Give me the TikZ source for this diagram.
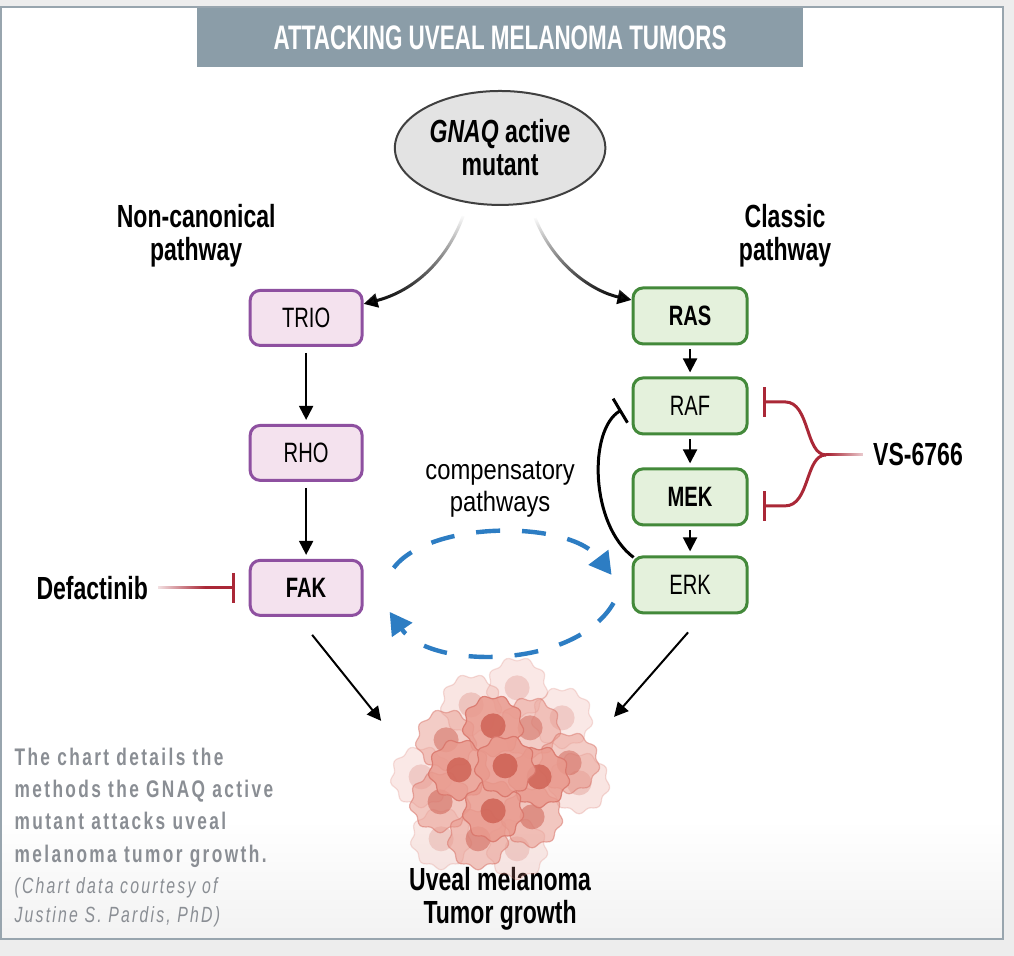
\documentclass[tikz,border=0pt]{standalone}
\usepackage{fontspec}
\setmainfont{Liberation Sans}
\newfontfamily\titlefont[FakeStretch=0.66]{Liberation Sans}
\newfontfamily\cnd[FakeStretch=0.72]{Liberation Sans}
\newfontfamily\cndwide[FakeStretch=0.85]{Liberation Sans}
\newfontfamily\capfont[FakeStretch=0.72,LetterSpace=10]{Liberation Sans}
\usetikzlibrary{arrows.meta,shapes.geometric,fadings}

\definecolor{frameblue}{HTML}{98A5AE}
\definecolor{titleband}{HTML}{8B9DA8}
\definecolor{purpline}{HTML}{8E50A0}
\definecolor{purpfill}{HTML}{F4E2EE}
\definecolor{grnline}{HTML}{43893A}
\definecolor{grnfill}{HTML}{E4F1DC}
\definecolor{inhred}{HTML}{AA2837}
\definecolor{compblue}{HTML}{2D7DC3}
\definecolor{capgray}{HTML}{8A8E94}
\definecolor{cellfill}{HTML}{E99A8E}
\definecolor{celledge}{HTML}{D9766B}
\definecolor{nucleus}{HTML}{CF6356}

\tikzfading[name=fadetop, top color=transparent!100, middle color=transparent!0, bottom color=transparent!0]
\tikzfading[name=whiteleft, left color=transparent!0, right color=transparent!100]
\tikzfading[name=whiteright, left color=transparent!100, right color=transparent!0]

\tikzstyle{noncanon}=[draw=purpline, fill=purpfill, line width=1.5pt, rounded corners=5pt,
  minimum width=56pt, minimum height=27.5pt, inner sep=0pt, font=\cnd\fontsize{14}{16}\selectfont]
\tikzstyle{classic}=[draw=grnline, fill=grnfill, line width=1.5pt, rounded corners=5pt,
  minimum width=57pt, minimum height=28pt, inner sep=0pt, font=\cnd\fontsize{14}{16}\selectfont]
\tikzstyle{act}=[-{Triangle[length=7pt,width=7pt]}, line width=1pt]
\tikzstyle{inhib}=[-{Bar[width=15pt,line width=1.5pt]}, line width=1.5pt, inhred]
\tikzstyle{comp}=[compblue, line width=2.2pt, dash pattern=on 12pt off 11pt, -{Triangle[length=11pt,width=12pt]}]
\tikzstyle{lbl}=[align=center, inner sep=2pt, font=\cnd\bfseries\fontsize{16}{16.5}\selectfont]
\tikzstyle{capline}=[anchor=base west, inner sep=0pt, text=capgray]

\begin{document}
\begin{tikzpicture}[x=0.5pt,y=-0.5pt]
    %Frame
    \fill[black!7] (0,0) rectangle (1014,956);
    \fill[white] (1,7) rectangle (1003,939);
    \shade[top color=white, bottom color=black!5] (1,820) rectangle (1003,939);
    \draw[frameblue, line width=1.2pt] (1,7) rectangle (1003,939);
    \useasboundingbox (0,0) rectangle (1014,956);
    \node[fill=titleband, minimum width=303pt, minimum height=29.5pt, inner sep=0pt, text=white,
      font=\titlefont\bfseries\fontsize{17}{17}\selectfont] (title) at (500,38) {ATTACKING UVEAL MELANOMA TUMORS};

    %Source
    \node[ellipse, draw=black!75, fill=black!11, line width=1pt, minimum width=102pt,
      minimum height=57pt, lbl] (gnaq) at (500,148) {\textit{GNAQ} active\\mutant};

    %Pathway boxes
    \foreach \pos/\name/\txt in {{(306,318)/trio/TRIO}, {(306,453)/rho/RHO}, {(306,588)/fak/\bfseries FAK}}
    \node[noncanon] (\name) at \pos {\txt};
    \foreach \pos/\name/\txt in {{(690,316)/ras/\bfseries RAS}, {(690,406)/raf/RAF},
                                 {(690,497)/mek/\bfseries MEK}, {(690,585)/erk/ERK}}
    \node[classic] (\name) at \pos {\txt};

    %Labels
    \node[lbl] (noncan) at (196,236) {Non-canonical\\pathway};
    \node[lbl] (clpath) at (785,236) {Classic\\pathway};
    \node[lbl] (defac) at (92,588) {Defactinib};
    \node[lbl] (vs) at (918,455) {VS-6766};
    \node[align=center, font=\cndwide\fontsize{14}{16}\selectfont] (comptxt) at (500,489) {compensatory\\pathways};
    \node[lbl] (tumtxt) at (500,899) {Uveal melanoma\\Tumor growth};

    %Caption
    \foreach \y/\txt [count=\i] in {766/The chart details the, 798/methods the GNAQ active,
                                   830/mutant attacks uveal, 863/melanoma tumor growth.}
    \node[capline, font=\capfont\bfseries\fontsize{12}{14}\selectfont] (cap\i) at (14,\y) {\txt};
    \node[capline, font=\capfont\itshape\fontsize{11}{13}\selectfont] (src1) at (14,894) {(Chart data courtesy of};
    \node[capline, font=\capfont\itshape\fontsize{11}{13}\selectfont] (src2) at (14,923) {Justine S. Pardis, PhD)};

    %Tumor cells
    \foreach \cx/\cy/\op in {517/688/0.22, 562/718/0.22, 421/777/0.22, 579/783/0.25, 517/849/0.22,
                             441/839/0.22, 471/705/0.25, 446/740/0.5, 530/728/0.5, 569/763/0.5,
                             440/802/0.55, 478/839/0.55, 532/817/0.55,
                             493/726/0.85, 459/770/0.85, 539/777/0.85, 493/811/0.85, 505/766/0.9}
    {
      \draw[celledge, fill=cellfill, fill opacity=\op, draw opacity=\op, line width=0.6pt]
        plot[smooth cycle, domain=0:355, samples=72, variable=\t]
        ({\cx+(29+2*sin(9*\t))*cos(\t)}, {\cy+(29+2*sin(9*\t))*sin(\t)});
      \fill[nucleus, opacity=\op] (\cx,\cy) circle (12.5);
    }
    \coordinate (tumL) at (381,721);
    \coordinate (tumR) at (614,717);

    %Connectors
    \coordinate (gl) at (463,216);
    \coordinate (gr) at (535,218);
    \draw[act, line width=1.5pt, path fading=fadetop] (gl) .. controls (445,265) and (410,292) .. ([yshift=7pt]trio.east);
    \draw[act, line width=1.5pt, path fading=fadetop] (gr) .. controls (555,268) and (595,292) .. ([yshift=8pt]ras.west);
    \draw[act, shorten <=3pt, shorten >=2pt] (trio) -- (rho);
    \draw[act, shorten <=3pt, shorten >=2pt] (rho) -- (fak);
    \draw[act, shorten <=2pt, shorten >=2pt] (ras) -- (raf);
    \draw[act, shorten <=2pt, shorten >=2pt] (raf) -- (mek);
    \draw[act, shorten <=2pt, shorten >=2pt] (mek) -- (erk);
    \draw[line width=1.5pt, -{Bar[width=14pt,line width=1.5pt]}] ([xshift=1pt,yshift=-1pt]erk.north west)
      .. controls (590,525) and (588,430) .. ([xshift=-5pt,yshift=-2pt]raf.west);
    \draw[act] ([xshift=3pt,yshift=-9pt]fak.south) -- (tumL);
    \draw[act] ([xshift=-1pt,yshift=-9pt]erk.south) -- (tumR);

    %Inhibitors
    \coordinate (br) at (826,455);
    \draw[inhib, shorten <=3pt] (defac.east) -- ([xshift=-7pt]fak.west);
    \fill[white, path fading=whiteleft] (150,578) rectangle (205,598);
    \draw[inhred, line width=1.5pt, shorten <=3pt] (vs.west) -- (br);
    \fill[white, path fading=whiteright] (828,445) rectangle (874,465);
    \draw[inhib] (br) .. controls (805,455) and (810,402) .. (785,402) -- ([xshift=7pt,yshift=2pt]raf.east);
    \draw[inhib] (br) .. controls (805,455) and (810,506) .. (785,506) -- ([xshift=7pt,yshift=-4.5pt]mek.east);

    %Compensatory pathways
    \draw[comp] ([xshift=15pt,yshift=10pt]fak.east) .. controls (430,520) and (570,520) .. ([xshift=-10pt,yshift=5pt]erk.west);
    \draw[comp] ([xshift=-9pt,yshift=-9pt]erk.west) .. controls (575,670) and (430,670) .. ([xshift=13pt,yshift=-12pt]fak.east);
\end{tikzpicture}
\end{document}
